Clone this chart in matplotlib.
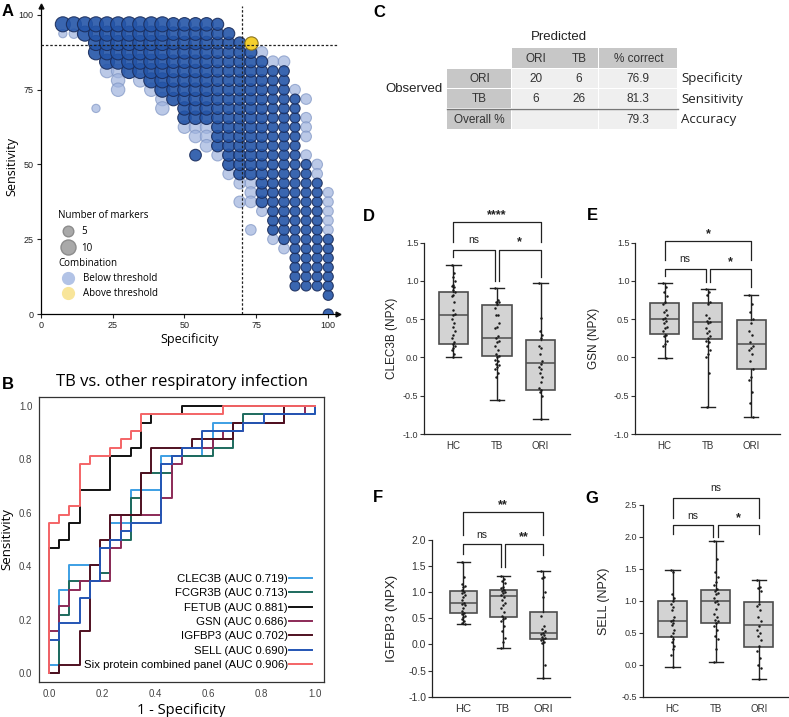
import numpy as np
import matplotlib.pyplot as plt
from matplotlib.lines import Line2D
from matplotlib.patches import Rectangle

plt.rcParams['font.family'] = ['Liberation Sans', 'DejaVu Sans']

W, H = 789, 717

# ---------------- panel A : marker combinations (specificity = k/26, sensitivity = j/32)
n_ori = 26
n_tb = 32
col_k = [2, 3, 4, 5, 6, 7, 8, 9, 10, 11, 12, 13, 14, 15, 16, 17, 18, 19, 20, 21, 22, 23, 24, 25, 26]
col_top = [31, 31, 31, 31, 31, 31, 31, 31, 31, 31, 31, 31, 31, 31, 31, 30, 29, 28, 27, 26, 26, 23, 16, 14, 8]
col_bot = [31, 31, 30, 28, 27, 27, 26, 26, 25, 24, 23, 21, 21, 21, 18, 16, 15, 15, 12, 9, 8, 3, 3, 3, 2]
col_markers = [10, 10, 10, 10, 10, 10, 10, 10, 10, 10, 8, 8, 8, 8, 6.5, 6.5, 6.5, 6.5, 6, 5, 5, 4.5, 4.5, 4.5, 4.5]
extra_k = [14, 26]
extra_j = [17, 0]
light_k = [2, 3, 5, 6, 7, 7, 7, 9, 10, 11, 11, 13, 14, 14, 15, 15, 15, 16, 17, 18, 18, 19, 19, 19, 19,
           20, 20, 21, 21, 22, 22, 23, 24, 24, 24, 24, 24, 25, 25, 26, 26, 26, 26, 26]
light_j = [30, 30, 22, 26, 26, 25, 24, 25, 24, 23, 22, 20, 20, 19, 20, 19, 18, 17, 15, 14, 12, 14, 13, 12, 9,
           28, 11, 27, 8, 27, 7, 24, 23, 21, 20, 19, 17, 16, 15, 13, 12, 11, 10, 9]
light_markers = [3, 4, 3, 8, 8, 8, 8, 8, 8, 8, 8, 7, 7, 7, 7, 7, 7, 6, 6, 6, 6, 6, 6, 6, 5,
                 6, 5, 6, 5, 6, 5, 5, 5, 5, 5, 5, 5, 5, 5, 4.5, 4.5, 4.5, 4.5, 4.5]
above_k = [19]
above_j = [29]
above_markers = [6]

# ---------------- panel B : ROC curves (counts of ORI false positives / TB true positives)
markers = ['CLEC3B', 'FCGR3B', 'FETUB', 'GSN', 'IGFBP3', 'SELL', 'Six protein combined panel']
auc = [0.719, 0.713, 0.881, 0.686, 0.702, 0.690, 0.906]
clec3b_fp = [0, 0, 1, 2, 5, 6, 8, 11, 15, 16, 23, 26]
clec3b_tp = [0, 1, 10, 13, 15, 18, 22, 26, 27, 30, 31, 32]
fcgr3b_fp = [0, 1, 2, 5, 6, 8, 9, 12, 16, 18, 19, 23, 26]
fcgr3b_tp = [0, 7, 11, 12, 16, 21, 24, 26, 27, 30, 31, 32, 32]
fetub_fp = [0, 0, 1, 2, 3, 6, 8, 9, 10, 13, 26]
fetub_tp = [0, 15, 16, 18, 22, 26, 27, 30, 31, 32, 32]
gsn_fp = [0, 0, 1, 2, 3, 6, 7, 11, 12, 13, 16, 17, 19, 23, 25, 26]
gsn_tp = [0, 5, 8, 10, 11, 15, 19, 21, 25, 27, 28, 29, 30, 31, 32, 32]
igfbp3_fp = [0, 1, 3, 4, 5, 6, 9, 10, 14, 18, 23, 26]
igfbp3_tp = [0, 1, 5, 13, 16, 19, 24, 27, 28, 30, 32, 32]
sell_fp = [0, 0, 1, 3, 4, 5, 6, 7, 8, 11, 12, 13, 15, 19, 21, 26]
sell_tp = [0, 4, 6, 9, 11, 15, 16, 17, 18, 25, 26, 27, 29, 30, 31, 32]
six_fp = [0, 0, 1, 2, 3, 4, 6, 7, 8, 9, 17, 26]
six_tp = [0, 18, 19, 20, 25, 26, 27, 28, 29, 31, 32, 32]
roc_colors = ['#3d9fe4', '#1d6a5d', '#111111', '#8c2a57', '#4f1020', '#2455b4', '#f46466']

# ---------------- panel C : classification table
pred_cols = ['ORI', 'TB', '% correct']
obs_rows = ['ORI', 'TB', 'Overall %']
table_vals = [['20', '6', '76.9'], ['6', '26', '81.3'], ['', '', '79.3']]
row_notes = ['Specificity', 'Sensitivity', 'Accuracy']

# ---------------- panels D-G : box plots (whisker low, q1, median, q3, whisker high)
groups = ['HC', 'TB', 'ORI']
clec3b_box = [[0.0, 0.18, 0.55, 0.86, 1.21], [-0.55, 0.02, 0.26, 0.68, 0.91], [-0.81, -0.43, -0.07, 0.23, 0.97]]
clec3b_pts = [[1.21, 1.1, 1.05, 1.0, 0.95, 0.93, 0.92, 0.88, 0.85, 0.82, 0.8, 0.72, 0.62, 0.57, 0.55, 0.5,
               0.45, 0.4, 0.35, 0.3, 0.25, 0.2, 0.18, 0.15, 0.13, 0.1, 0.05, 0.0],
              [0.91, 0.75, 0.73, 0.72, 0.7, 0.65, 0.55, 0.55, 0.45, 0.4, 0.38, 0.28, 0.26, 0.22, 0.2, 0.15,
               0.1, 0.05, 0.02, 0.0, -0.03, -0.05, -0.08, -0.1, -0.12, -0.15, -0.2, -0.25, -0.55],
              [0.97, 0.52, 0.35, 0.3, 0.25, 0.15, 0.12, 0.05, -0.05, -0.08, -0.12, -0.15, -0.2, -0.25,
               -0.32, -0.4, -0.42, -0.45, -0.5, -0.81]]
gsn_box = [[-0.01, 0.31, 0.50, 0.71, 0.97], [-0.65, 0.24, 0.47, 0.71, 0.89], [-0.78, -0.15, 0.17, 0.49, 0.82]]
gsn_pts = [[0.97, 0.92, 0.85, 0.8, 0.72, 0.7, 0.62, 0.6, 0.55, 0.52, 0.5, 0.48, 0.45, 0.4, 0.38, 0.35,
            0.3, 0.28, 0.22, 0.18, 0.15, -0.01],
           [0.89, 0.85, 0.82, 0.72, 0.7, 0.55, 0.52, 0.48, 0.47, 0.45, 0.38, 0.35, 0.32, 0.28, 0.25, 0.22,
            0.2, 0.15, 0.1, 0.05, 0.0, -0.2, -0.65],
           [0.82, 0.7, 0.6, 0.5, 0.45, 0.35, 0.3, 0.2, 0.15, 0.12, 0.1, 0.05, -0.05, -0.15, -0.25, -0.3,
            -0.45, -0.6, -0.78]]
igfbp3_box = [[0.40, 0.61, 0.80, 1.02, 1.57], [-0.06, 0.52, 0.93, 1.05, 1.32], [-0.65, 0.10, 0.21, 0.63, 1.40]]
igfbp3_pts = [[1.57, 1.3, 1.15, 1.12, 1.1, 1.05, 1.0, 0.98, 0.95, 0.9, 0.85, 0.8, 0.78, 0.75, 0.7, 0.65,
               0.6, 0.58, 0.55, 0.52, 0.48, 0.45, 0.42, 0.40],
              [1.32, 1.25, 1.22, 1.18, 1.1, 1.08, 1.05, 1.02, 1.0, 0.98, 0.95, 0.9, 0.85, 0.8, 0.75, 0.7,
               0.62, 0.55, 0.5, 0.48, 0.45, 0.35, 0.25, 0.12, 0.05, -0.06],
              [1.40, 1.3, 1.28, 1.0, 0.9, 0.55, 0.35, 0.3, 0.25, 0.22, 0.2, 0.18, 0.15, 0.12, 0.1, 0.08,
               0.05, 0.02, -0.4, -0.65]]
sell_box = [[-0.04, 0.43, 0.68, 0.99, 1.48], [0.05, 0.66, 1.0, 1.17, 1.94], [-0.22, 0.27, 0.62, 0.98, 1.33]]
sell_pts = [[1.48, 1.45, 1.1, 1.05, 1.0, 0.95, 0.9, 0.85, 0.75, 0.7, 0.68, 0.65, 0.62, 0.55, 0.5, 0.45,
             0.4, 0.35, 0.3, 0.25, 0.15, -0.04],
            [1.94, 1.65, 1.45, 1.38, 1.3, 1.25, 1.18, 1.15, 1.12, 1.1, 1.05, 1.0, 0.98, 0.95, 0.88, 0.8,
             0.75, 0.7, 0.68, 0.65, 0.6, 0.55, 0.45, 0.4, 0.25, 0.05],
            [1.33, 1.22, 1.2, 1.15, 0.95, 0.92, 0.85, 0.75, 0.68, 0.6, 0.55, 0.5, 0.45, 0.38, 0.3, 0.22,
             0.1, 0.0, -0.05, -0.22]]


def px_rect(x0, y0, x1, y1):
    # pixel box (top-left origin) -> figure fraction rect
    return [x0 / W, (H - y1) / H, (x1 - x0) / W, (y1 - y0) / H]


fig = plt.figure(figsize=(W / 100, H / 100), dpi=100)

# ---------------- A
axA = fig.add_axes(px_rect(40.7, 6, 338.3, 314))
dk, dj, dn = [], [], []
for k, top, bot, n in zip(col_k, col_top, col_bot, col_markers):
    for j in range(bot, top + 1):
        dk.append(k)
        dj.append(j)
        dn.append(n)
dk += extra_k
dj += extra_j
dn += [6, 4.5]
spec_d = np.array(dk) / n_ori * 100
sens_d = np.array(dj) / n_tb * 100
axA.scatter(np.array(light_k) / n_ori * 100, np.array(light_j) / n_tb * 100, s=np.array(light_markers) * 11.7,
            color='#9fb3de', edgecolor='#7f95c4', alpha=0.7, linewidth=0.8, zorder=2)
axA.scatter(spec_d, sens_d, s=np.array(dn) * 11.7, color='#2455a8', edgecolor='#1a2d5c', alpha=0.9,
            linewidth=0.8, zorder=3)
axA.scatter(np.array(above_k) / n_ori * 100, np.array(above_j) / n_tb * 100, s=np.array(above_markers) * 11.7 * 1.3,
            color='#f4cf2e', edgecolor='#8a7320', linewidth=0.8, zorder=4)
axA.axvline(70, color='#222', ls=(0, (2, 1.5)), lw=0.9, zorder=5)
axA.axhline(90, color='#222', ls=(0, (2, 1.5)), lw=0.9, zorder=5)
axA.set_xlim(0, 103.5)
axA.set_ylim(0, 103)
axA.set_xticks([0, 25, 50, 75, 100])
axA.set_yticks([0, 25, 50, 75, 100])
axA.tick_params(labelsize=6.5, length=3, width=0.8, colors='#222', pad=2)
for s in ['top', 'right']:
    axA.spines[s].set_visible(False)
for s in ['left', 'bottom']:
    axA.spines[s].set_linewidth(0.9)
axA.plot([1], [0], marker='>', ms=3.5, color='#111', transform=axA.transAxes, clip_on=False)
axA.plot([0], [1], marker='^', ms=3.5, color='#111', transform=axA.transAxes, clip_on=False)
axA.set_xlabel('Specificity', fontsize=9, family='Open Sans', labelpad=2)
axA.set_ylabel('Sensitivity', fontsize=9, family='Open Sans')
axA.yaxis.set_label_coords(-0.076, 0.48)
h1 = [Line2D([], [], ls='', marker='o', ms=np.sqrt(5 * 11.7), mfc='#a9a9a9', mec='#8c8c8c'),
      Line2D([], [], ls='', marker='o', ms=np.sqrt(10 * 11.7), mfc='#a9a9a9', mec='#8c8c8c')]
leg1 = axA.legend(h1, ['5', '10'], title='Number of markers', loc='upper left', bbox_to_anchor=(0.035, 0.36),
                  frameon=False, fontsize=7, title_fontsize=7, alignment='left', handletextpad=0.4,
                  labelspacing=0.55, borderpad=0.2, prop={'family': 'Open Sans', 'size': 7})
leg1.get_title().set_family('Open Sans')
axA.add_artist(leg1)
h2 = [Line2D([], [], ls='', marker='o', ms=8.5, mfc='#b2c3e6', mec='#b2c3e6'),
      Line2D([], [], ls='', marker='o', ms=8.5, mfc='#f8e59a', mec='#f8e59a')]
leg2 = axA.legend(h2, ['Below threshold', 'Above threshold'], title='Combination', loc='upper left',
                  bbox_to_anchor=(0.035, 0.205), frameon=False, alignment='left', handletextpad=0.6,
                  labelspacing=0.45, borderpad=0.2, prop={'family': 'Open Sans', 'size': 7})
leg2.get_title().set_family('Open Sans')
leg2.get_title().set_fontsize(7)

# ---------------- B
axB = fig.add_axes(px_rect(39.3, 396.7, 324, 682.3))
roc_fp = [clec3b_fp, fcgr3b_fp, fetub_fp, gsn_fp, igfbp3_fp, sell_fp, six_fp]
roc_tp = [clec3b_tp, fcgr3b_tp, fetub_tp, gsn_tp, igfbp3_tp, sell_tp, six_tp]
for name, a, fp, tp, c in zip(markers, auc, roc_fp, roc_tp, roc_colors):
    axB.plot(np.array(fp) / n_ori, np.array(tp) / n_tb, drawstyle='steps-post', color=c, lw=1.4,
             label=f'{name} (AUC {a:.3f})')
axB.set_xlim(-0.036, 1.034)
axB.set_ylim(-0.034, 1.035)
axB.set_xticks(np.arange(0, 1.01, 0.2))
axB.set_yticks(np.arange(0, 1.01, 0.2))
axB.xaxis.set_major_formatter(plt.FuncFormatter(lambda v, p: f'{v:.1f}'))
axB.yaxis.set_major_formatter(plt.FuncFormatter(lambda v, p: f'{v:.1f}'))
axB.tick_params(labelsize=7, length=0, colors='#444', pad=5)
for s in axB.spines.values():
    s.set_color('#333')
    s.set_linewidth(0.9)
axB.set_title('TB vs. other respiratory infection', fontsize=12, family='Open Sans', pad=8)
axB.set_xlabel('1 - Specificity', fontsize=10.5, family='Open Sans', labelpad=3)
axB.set_ylabel('Sensitivity', fontsize=9.5, family='Open Sans')
axB.yaxis.set_label_coords(-0.09, 0.5)
axB.legend(loc='lower right', bbox_to_anchor=(0.985, 0.015), frameon=False, markerfirst=False, fontsize=8.2,
           handlelength=2.0, handletextpad=0.1, labelspacing=0.38, borderpad=0.2)

# ---------------- C
axC = fig.add_axes(px_rect(380, 0, 789, 140))
axC.set_xlim(380, 789)
axC.set_ylim(140, 0)
axC.axis('off')
col_edges = [446.7, 512.2, 559.3, 599.0, 677.5]
row_edges = [48.3, 68.8, 88.8, 109.3, 130.0]
gap = 0.8
dark_cell, light_cell = '#c7c7c7', '#efefef'
for ci, lab in enumerate(pred_cols):
    x0, x1 = col_edges[ci + 1], col_edges[ci + 2]
    axC.add_patch(Rectangle((x0, row_edges[0]), x1 - x0 - gap, row_edges[1] - row_edges[0] - gap,
                            color=dark_cell, lw=0))
    axC.text((x0 + x1) / 2, (row_edges[0] + row_edges[1]) / 2, lab, ha='center', va='center', fontsize=8.5,
             color='#333')
for ri, lab in enumerate(obs_rows):
    y0, y1 = row_edges[ri + 1], row_edges[ri + 2]
    axC.add_patch(Rectangle((col_edges[0], y0), col_edges[1] - col_edges[0] - gap, y1 - y0 - gap,
                            color=dark_cell, lw=0))
    axC.text((col_edges[0] + col_edges[1]) / 2, (y0 + y1) / 2, lab, ha='center', va='center', fontsize=8.5,
             color='#333')
    for ci in range(3):
        x0, x1 = col_edges[ci + 1], col_edges[ci + 2]
        axC.add_patch(Rectangle((x0, y0), x1 - x0 - gap, y1 - y0 - gap, color=light_cell, lw=0))
        axC.text((x0 + x1) / 2, (y0 + y1) / 2, table_vals[ri][ci], ha='center', va='center', fontsize=8.5,
                 color='#333')
    axC.text(681, (y0 + y1) / 2, row_notes[ri], ha='left', va='center', fontsize=9.5, family='Open Sans',
             color='#222')
axC.plot([col_edges[0], col_edges[-1]], [row_edges[3] - 0.4, row_edges[3] - 0.4], color='#777', lw=1)
axC.text(559.3, 36.7, 'Predicted', ha='center', va='center', fontsize=9.5, color='#222')
axC.text(385, 89.3, 'Observed', ha='left', va='center', fontsize=9.5, color='#222')


# ---------------- D-G
def box_panel(rect, xlim, box, pts, ylim, yticks, ylabel, ylab_x, brackets, fs_tick, fs_lab):
    ax = fig.add_axes(rect)
    st = [dict(whislo=b[0], q1=b[1], med=b[2], q3=b[3], whishi=b[4], fliers=[]) for b in box]
    ax.bxp(st, positions=[1, 2, 3], widths=0.67, patch_artist=True, showfliers=False, capwidths=0.33,
           boxprops=dict(facecolor='#d3d3d3', edgecolor='#4d4d4d', linewidth=1.2),
           medianprops=dict(color='#4d4d4d', linewidth=1.1),
           whiskerprops=dict(color='#222', linewidth=1.0),
           capprops=dict(color='#222', linewidth=1.0))
    for i, vals in enumerate(pts):
        off = np.array([((m * 3) % 5 - 2) * 0.022 for m in range(len(vals))])
        ax.scatter(off + i + 1, vals, s=3.2, color='#1a1a1a', lw=0, zorder=4)
    ax.set_xlim(*xlim)
    ax.set_ylim(*ylim)
    ax.set_yticks(yticks)
    ax.yaxis.set_major_formatter(plt.FuncFormatter(lambda v, p: f'{v:.1f}'))
    ax.set_xticks([1, 2, 3])
    ax.set_xticklabels(groups)
    ax.tick_params(axis='y', labelsize=fs_tick, length=3, width=0.8, colors='#333', pad=1)
    ax.tick_params(axis='x', labelsize=fs_tick + 0.5, length=0, colors='#333', pad=5)
    for s in ['top', 'right']:
        ax.spines[s].set_visible(False)
    for s in ['left', 'bottom']:
        ax.spines[s].set_linewidth(0.9)
        ax.spines[s].set_color('#222')
    ax.set_ylabel(ylabel, fontsize=fs_lab, color='#222')
    ax.yaxis.set_label_coords(ylab_x, 0.5)
    span = ylim[1] - ylim[0]
    for x1, x2, yh, d1, d2, lab in brackets:
        ax.plot([x1, x1, x2, x2], [d1, yh, yh, d2], color='#222', lw=0.9, clip_on=False)
        is_star = lab.startswith('*')
        ax.text((x1 + x2) / 2, yh + span * (0.005 if is_star else 0.025), lab, ha='center', va='bottom',
                fontsize=9 if is_star else 7.5, fontweight='bold' if is_star else 'normal', color='#222')
    return ax


box_panel(px_rect(424, 242.7, 570, 434), (0.322, 3.678), clec3b_box, clec3b_pts, (-1, 1.5),
          [-1, -0.5, 0, 0.5, 1, 1.5], 'CLEC3B (NPX)', -0.178,
          [(1, 3, 1.77, 1.51, 1.51, '****'), (1, 1.95, 1.41, 1.31, 1.0, 'ns'), (2.05, 3, 1.41, 1.0, 1.05, '*')],
          6.5, 8.5)
box_panel(px_rect(635, 242.7, 780, 434), (0.313, 3.666), gsn_box, gsn_pts, (-1, 1.5),
          [-1, -0.5, 0, 0.5, 1, 1.5], 'GSN (NPX)', -0.241,
          [(1, 3, 1.52, 1.27, 1.27, '*'), (1, 1.95, 1.16, 1.07, 0.99, 'ns'), (2.05, 3, 1.16, 0.99, 0.92, '*')],
          6.5, 8.5)
box_panel(px_rect(431.7, 540, 570, 696.7), (0.21, 3.67), igfbp3_box, igfbp3_pts, (-1, 2),
          [-1, -0.5, 0, 0.5, 1, 1.5, 2], 'IGFBP3 (NPX)', -0.244,
          [(1, 3, 2.54, 2.09, 2.09, '**'), (1, 1.95, 1.92, 1.74, 1.48, 'ns'), (2.05, 3, 1.92, 1.48, 1.71, '**')],
          7.5, 9.5)
box_panel(px_rect(642.7, 505, 788, 696.7), (0.309, 3.677), sell_box, sell_pts, (-0.5, 2.5),
          [-0.5, 0, 0.5, 1, 1.5, 2, 2.5], 'SELL (NPX)', -0.225,
          [(1, 3, 2.61, 2.3, 2.3, 'ns'), (1, 1.95, 2.18, 2.04, 2.0, 'ns'), (2.05, 3, 2.18, 2.0, 2.04, '*')],
          6.5, 9)

# ---------------- panel letters
for lab, x, y in [('A', 2, 4), ('B', 2, 377), ('C', 373, 5), ('D', 363, 209), ('E', 587, 208),
                  ('F', 373, 490), ('G', 585, 491)]:
    fig.text(x / W, 1 - y / H, lab, fontsize=12, fontweight='bold', ha='left', va='top',
             family='Liberation Sans')

fig.savefig('out.png', dpi=100)
